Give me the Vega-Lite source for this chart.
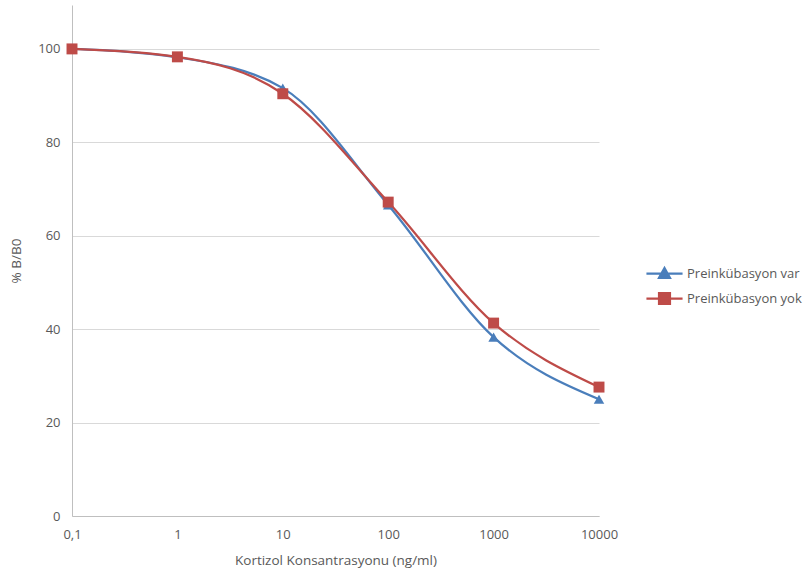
{
  "$schema": "https://vega.github.io/schema/vega-lite/v6.json",
  "width": 527,
  "height": 511,
  "autosize": "none",
  "padding": {"left": 72, "top": 5, "right": 209, "bottom": 60},
  "background": "white",
  "config": {
    "view": {"stroke": null},
    "font": "Open Sans",
    "axis": {"labelColor": "#595959", "titleColor": "#595959", "labelFont": "Open Sans", "titleFont": "Open Sans", "labelFontSize": 13, "titleFontSize": 13.5, "titleFontWeight": "normal", "ticks": false, "domainColor": "#bfbfbf", "gridColor": "#d9d9d9"}
  },
  "data": {
    "values": [
      {"series": "Preinkübasyon  var", "x": 0.1, "y": 100},
      {"series": "Preinkübasyon  var", "x": 1, "y": 98.2},
      {"series": "Preinkübasyon  var", "x": 10, "y": 91.6},
      {"series": "Preinkübasyon  var", "x": 100, "y": 66.6},
      {"series": "Preinkübasyon  var", "x": 1000, "y": 38.3},
      {"series": "Preinkübasyon  var", "x": 10000, "y": 25.0},
      {"series": "Preinkübasyon yok", "x": 0.1, "y": 100},
      {"series": "Preinkübasyon yok", "x": 1, "y": 98.3},
      {"series": "Preinkübasyon yok", "x": 10, "y": 90.4},
      {"series": "Preinkübasyon yok", "x": 100, "y": 67.2},
      {"series": "Preinkübasyon yok", "x": 1000, "y": 41.3},
      {"series": "Preinkübasyon yok", "x": 10000, "y": 27.6}
    ]
  },
  "encoding": {
    "x": {
      "field": "x", "type": "quantitative",
      "scale": {"type": "log", "domain": [0.1, 10000], "nice": false},
      "axis": {"values": [0.1, 1, 10, 100, 1000, 10000], "labelExpr": "datum.value < 0.5 ? '0,1' : format(datum.value, 'd')", "grid": false, "title": "Kortizol Konsantrasyonu (ng/ml)", "labelPadding": 12, "titlePadding": 12, "labelFlush": false}
    },
    "y": {
      "field": "y", "type": "quantitative",
      "scale": {"domain": [0, 109.4], "nice": false},
      "axis": {"values": [0, 20, 40, 60, 80, 100], "title": "% B/B0", "labelPadding": 12, "titlePadding": 14}
    },
    "color": {
      "field": "series", "type": "nominal",
      "scale": {"domain": ["Preinkübasyon  var", "Preinkübasyon yok"], "range": ["#4a7ebb", "#be4b48"]}
    }
  },
  "layer": [
    {
      "mark": {"type": "line", "interpolate": "monotone", "strokeWidth": 2.25},
      "encoding": {
        "color": {
          "field": "series", "type": "nominal",
          "legend": {
            "orient": "none", "legendX": 577, "legendY": 253,
            "title": null,
            "labelFont": "Open Sans", "labelFontSize": 13, "labelColor": "#595959",
            "symbolSize": 784, "symbolStrokeWidth": 2.25, "rowPadding": 0, "labelOffset": 7,
            "encode": {
              "symbols": {
                "update": {
                  "shape": {"signal": "datum.value === 'Preinkübasyon yok' ? 'M-1.29,0H1.29M-0.39,-0.39H0.39V0.39H-0.39Z' : 'M-1.29,0H1.29M-0.39,0.31L0,-0.39L0.39,0.31Z'"},
                  "fill": {"signal": "scale('color', datum.value)"},
                  "fillOpacity": {"value": 1}
                }
              }
            }
          }
        }
      }
    },
    {
      "transform": [{"filter": "datum.series === 'Preinkübasyon  var'"}],
      "mark": {"type": "point", "filled": true, "opacity": 1, "shape": "triangle-up", "size": 110},
      "encoding": {"color": {"field": "series", "type": "nominal", "legend": null}}
    },
    {
      "transform": [{"filter": "datum.series === 'Preinkübasyon yok'"}],
      "mark": {"type": "point", "filled": true, "opacity": 1, "shape": "square", "size": 120},
      "encoding": {"color": {"field": "series", "type": "nominal", "legend": null}}
    }
  ]
}
